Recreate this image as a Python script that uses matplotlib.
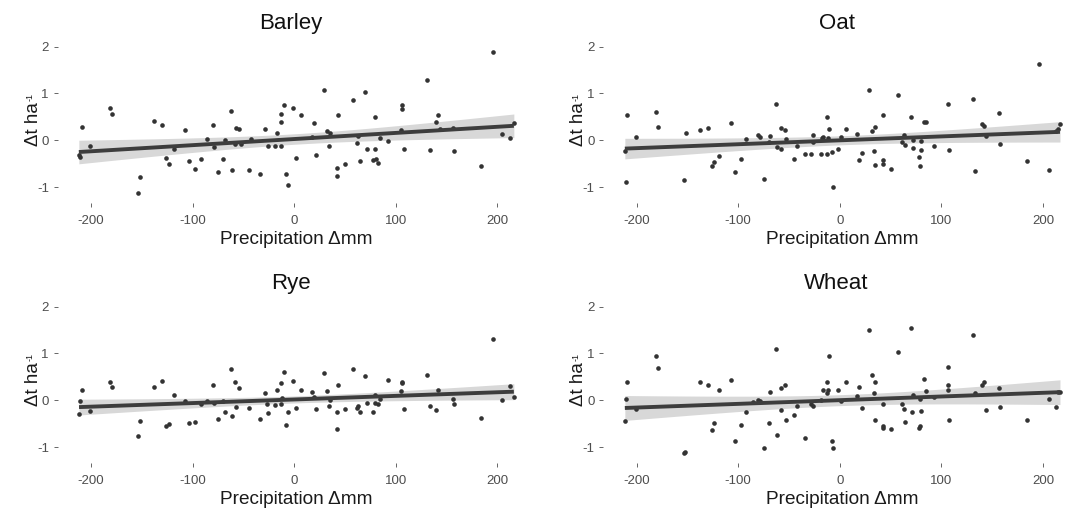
import numpy as np
import matplotlib
matplotlib.use("Agg")
import matplotlib.pyplot as plt

plt.rcParams['font.family'] = ['Liberation Sans', 'DejaVu Sans']

crops = ["Barley", "Oat", "Rye", "Wheat"]

barley_x = [-212, -211, -209, -200.7, -181, -179.3, -153.4, -151.8, -137.7, -129.8, -125.9, -123.6,
            -118.7, -107.2, -103.3, -97.7, -92.1, -85.9, -80.3, -79, -74.8, -70.2, -68.5, -62.3,
            -61.6, -58.4, -57.7, -54.1, -52.8, -44.9, -42.6, -34.1, -28.5, -26.2, -19, -16.7,
            -12.8, -12.8, -12.8, -10.5, -7.9, -6.6, -1.6, 1.3, 6.3, 17.1, 19.7, 21.7, 29.2, 32.2,
            33.8, 35.1, 42.3, 42.3, 43, 50.2, 57.4, 62, 63, 64.3, 69.9, 71.5, 77.8, 79.4, 80,
            80.5, 82.3, 84.9, 92.8, 105.6, 105.9, 106.2, 107.6, 131.2, 133.5, 140, 142, 143.6,
            156.4, 157.1, 184, 195.8, 205, 212.3, 216.2]
barley_y = [-0.31, -0.35, 0.28, -0.12, 0.68, 0.56, -1.13, -0.78, 0.42, 0.33, -0.38, -0.50,
            -0.19, 0.21, -0.44, -0.62, -0.39, 0.03, 0.33, -0.14, -0.68, -0.39, 0.01, 0.63,
            -0.64, -0.09, 0.27, 0.25, -0.08, -0.64, 0.03, -0.71, 0.25, -0.13, -0.13, 0.16,
            0.40, 0.56, -0.13, 0.76, -0.73, -0.95, 0.68, -0.38, 0.55, 0.08, 0.37, -0.31, 1.07, 0.20,
            -0.12, 0.16, -0.59, -0.76, 0.54, -0.51, 0.85, -0.06, 0.10, -0.45, 1.04, -0.18, -0.43, 0.49, -0.19,
            -0.41, -0.48, 0.05, -0.02, 0.23, 0.76, 0.67, -0.18, 1.29, -0.21, 0.40, 0.55, 0.25,
            0.26, -0.23, -0.54, 1.89, 0.14, 0.04, 0.36]

oat_x = [-211.5, -210.5, -209.2, -200.3, -180.7, -179, -153, -151.5, -137.7, -129.5, -125.6, -123.3,
         -118.4, -106.9, -103, -97.4, -91.8, -80.3, -78.7, -74.4, -69.8, -68.2, -62.3, -61.3,
         -58, -57.4, -54.1, -52.8, -44.9, -42.3, -33.8, -28.2, -26.6, -25.9, -18.7, -17.7, -16.4,
         -12.5, -12.5, -11.1, -10.2, -7.9, -6.4, -1.8, 1.5, 5.9, 16.8, 19.4, 21.7, 29, 31.9,
         33.5, 34.5, 35.2, 42.4, 42.4, 43.1, 50.3, 57.2, 61.8, 62.8, 64.5, 69.7, 71.7, 71.7,
         77.6, 79.3, 80.3, 80.3, 82.6, 84.9, 93.1, 106.3, 107.9, 131.3, 133.6, 140.1, 141.8,
         143.8, 156.6, 157.6, 184.2, 196.1, 205.6, 213.2, 214.5, 216.8]
oat_y = [-0.23, -0.89, 0.54, 0.06, 0.60, 0.28, -0.84, 0.16, 0.23, 0.26, -0.55, -0.47,
         -0.33, 0.37, -0.67, -0.41, 0.03, 0.12, 0.08, -0.83, -0.04, 0.10, 0.78, -0.14,
         -0.18, 0.27, 0.21, 0.03, -0.41, -0.13, -0.29, -0.29, -0.04, 0.11, -0.29, 0.04, 0.08,
         0.49, -0.29, 0.04, 0.25, -0.25, -1.00, -0.18, 0.08, 0.25, 0.13, -0.42, -0.28, 1.07, 0.20,
         -0.23, 0.28, -0.52, -0.42, -0.50, 0.55, -0.61, 0.97, -0.03, 0.11, -0.11, 0.49, 0.01, -0.16,
         -0.36, -0.54, -0.01, -0.20, 0.38, 0.40, -0.13, 0.78, -0.20, 0.88, -0.66, 0.35, 0.31,
         0.10, 0.59, -0.07, -0.45, 1.63, -0.64, 0.20, 0.24, 0.35]

rye_x = [-211.8, -211.1, -209.2, -200.7, -181, -179.3, -153.4, -151.8, -137.7, -129.8, -125.9, -123.6,
         -118.7, -107.2, -103.3, -97.7, -92.1, -85.9, -80.3, -79, -74.8, -70.2, -68.5, -62.3,
         -61.6, -58.4, -57.7, -54.1, -44.9, -34.1, -28.5, -26.6, -26.2, -19, -16.7, -12.8,
         -12.8, -11.8, -10.5, -7.9, -6.6, -1.6, 1.3, 6.3, 17.1, 19.7, 21.7, 29.2, 31.8, 33.8,
         35.1, 42.3, 42.3, 43, 50.2, 57.4, 62, 63, 64.3, 69.9, 71.5, 77.7, 79.4, 80, 82.3,
         84.9, 92.8, 105.6, 105.9, 105.9, 107.6, 131.2, 133.5, 140, 142, 156.4, 157.1, 184,
         195.8, 205, 212.3, 216.2]
rye_y = [-0.29, -0.02, 0.21, -0.22, 0.39, 0.29, -0.77, -0.44, 0.28, 0.41, -0.56, -0.50,
         0.12, -0.01, -0.49, -0.46, -0.09, -0.02, 0.33, -0.06, -0.41, -0.02, -0.26, 0.66,
         -0.34, 0.38, -0.14, 0.27, -0.17, -0.41, 0.15, -0.09, -0.27, -0.10, 0.21, 0.37,
         -0.09, 0.04, 0.61, -0.53, -0.26, 0.41, -0.16, 0.21, 0.18, 0.08, -0.19, 0.58, 0.20, -0.13,
         0.01, -0.26, -0.62, 0.33, -0.18, 0.67, -0.17, -0.12, -0.26, 0.51, -0.05, -0.24, -0.06, 0.12, -0.08,
         0.03, 0.44, 0.20, 0.37, 0.40, -0.19, 0.54, -0.12, -0.20, 0.22, 0.03, -0.09, -0.38,
         1.30, 0.01, 0.31, 0.08]

wheat_x = [-211.5, -210.5, -209.2, -200.3, -180.7, -179, -153.1, -151.8, -137.7, -129.5, -125.6, -123.3,
           -118.4, -106.9, -103, -97.4, -91.8, -85.2, -80.3, -78.7, -74.4, -69.8, -68.2, -62.3,
           -61.3, -58, -57.4, -54.1, -52.8, -44.9, -42.3, -33.8, -28.2, -25.9, -18.7, -16.4,
           -12.5, -12.5, -11.8, -10.2, -7.9, -6.2, -1.6, 1.6, 5.9, 16.8, 19.4, 21.7, 29, 31.9,
           33.6, 34.5, 35.2, 42.4, 42.4, 43.1, 50.3, 57.2, 61.8, 62.8, 64.5, 69.7, 71.4, 71.7,
           77.6, 79.3, 79.3, 80.3, 82.6, 84.9, 93.1, 106.3, 106.3, 106.3, 107.9, 131.3, 133.6,
           140.1, 142.1, 144, 156.6, 157.6, 184.5, 205.6, 212.8, 215.1, 216.8]
wheat_y = [-0.44, 0.02, 0.39, -0.19, 0.95, 0.68, -1.13, -1.11, 0.38, 0.33, -0.64, -0.48,
           0.22, 0.43, -0.87, -0.53, -0.24, -0.03, 0.01, -0.02, -1.01, -0.48, 0.18, 1.09,
           -0.75, -0.21, 0.27, 0.33, -0.43, -0.31, -0.12, -0.81, -0.07, -0.12, 0.01, 0.23,
           0.39, 0.15, 0.23, 0.94, -0.87, -1.01, 0.23, -0.02, 0.39, 0.10, 0.28, -0.16, 1.50, 0.55,
           0.16, -0.43, 0.38, -0.56, -0.59, -0.07, -0.62, 1.03, -0.08, -0.19, -0.46, 1.55, -0.26, 0.11,
           -0.59, -0.56, 0.03, -0.23, 0.45, 0.20, 0.06, 0.72, 0.33, 0.23, -0.42, 1.40, 0.15,
           0.32, 0.40, -0.21, 0.27, -0.14, -0.42, 0.03, -0.14, 0.18, 0.17]

data = {"Barley": (barley_x, barley_y), "Oat": (oat_x, oat_y),
        "Rye": (rye_x, rye_y), "Wheat": (wheat_x, wheat_y)}

x_ticks = [-200, -100, 0, 100, 200]
y_ticks = [-1, 0, 1, 2]
x_lim = (-233, 238)
y_lim = (-1.34, 2.04)

W, H = 1067, 513
fig = plt.figure(figsize=(W / 100, H / 100), dpi=100)

# panel rectangles in pixels (left, top, right, bottom)
panels = {
    "Barley": (57.5, 44.8, 536.0, 203.0),
    "Oat": (603.0, 44.8, 1081.5, 203.0),
    "Rye": (57.5, 304.8, 536.0, 463.0),
    "Wheat": (603.0, 304.8, 1081.5, 463.0),
}

T_95 = 1.99
axes = []
for name in crops:
    l, t, r, b = panels[name]
    ax = fig.add_axes([l / W, 1 - b / H, (r - l) / W, (b - t) / H])
    axes.append(ax)
    xs = np.array(data[name][0], dtype=float)
    ys = np.array(data[name][1], dtype=float)
    n = len(xs)
    # OLS fit and 95% confidence band
    xm = xs.mean()
    sxx = ((xs - xm) ** 2).sum()
    slope = ((xs - xm) * (ys - ys.mean())).sum() / sxx
    icpt = ys.mean() - slope * xm
    resid = ys - (icpt + slope * xs)
    s = np.sqrt((resid ** 2).sum() / (n - 2))
    xg = np.linspace(xs.min(), xs.max(), 80)
    yg = icpt + slope * xg
    se = s * np.sqrt(1 / n + (xg - xm) ** 2 / sxx)
    ax.fill_between(xg, yg - T_95 * se, yg + T_95 * se, color='#d8d8d8', lw=0, zorder=1)
    ax.scatter(xs, ys, s=11, color='#333333', lw=0, zorder=2)
    ax.plot(xg, yg, color='#3d3d3d', lw=2.8, solid_capstyle='butt', zorder=3)

    ax.set_xlim(*x_lim)
    ax.set_ylim(*y_lim)
    ax.set_xticks(x_ticks)
    ax.set_yticks(y_ticks)
    ax.set_xticklabels([str(v) for v in x_ticks])
    ax.set_yticklabels([str(v) for v in y_ticks])
    for sp in ax.spines.values():
        sp.set_visible(False)
    ax.tick_params(axis='both', colors='#4d4d4d', labelcolor='#4d4d4d', labelsize=9.5,
                   length=3.2, width=0.6)
    ax.tick_params(axis='x', pad=5.5)
    ax.tick_params(axis='y', pad=3)
    ax.set_xlabel("Precipitation Δmm", fontsize=13.7, color='#1a1a1a', labelpad=3)
    ax.set_ylabel("Δt ha", fontsize=13.5, color='#1a1a1a')
    ax.yaxis.set_label_coords(-0.033, 0.5)
    ax.set_title(name, fontsize=16, color='#111111', x=0.488, pad=11.2)

# tiny superscript "-1" after the y-axis label, as in the reference
fig.canvas.draw()
renderer = fig.canvas.get_renderer()
inv = fig.transFigure.inverted()
for ax in axes:
    bb = ax.yaxis.label.get_window_extent(renderer)
    fx, fy = inv.transform((bb.x0 + 1.0, bb.y1 + 0.5))
    fig.text(fx, fy, "-1", rotation=90, fontsize=6.5, color='#1a1a1a',
             ha='left', va='bottom')

fig.savefig("out.png", dpi=100)
